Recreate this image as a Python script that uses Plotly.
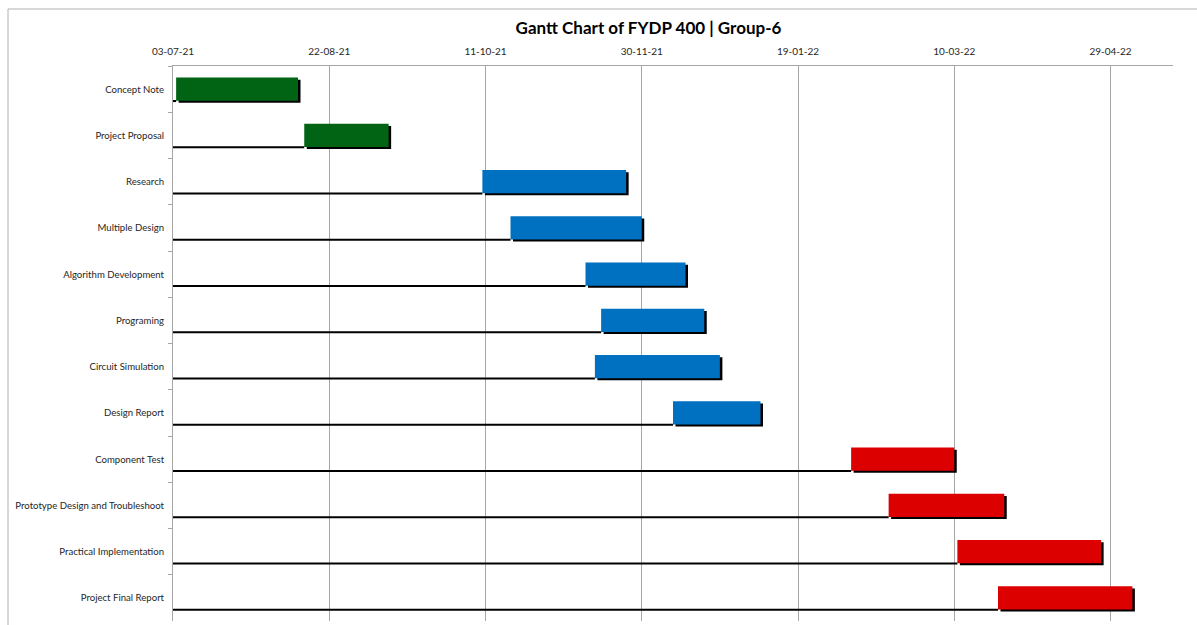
import pandas as pd
import plotly.graph_objects as go

tasks = ["Concept Note", "Project Proposal", "Research", "Multiple Design",
         "Algorithm Development", "Programing", "Circuit Simulation", "Design Report",
         "Component Test", "Prototype Design and Troubleshoot",
         "Practical Implementation", "Project Final Report"]
start_dates = ["2021-07-04", "2021-08-14", "2021-10-10", "2021-10-19",
               "2021-11-12", "2021-11-17", "2021-11-15", "2021-12-10",
               "2022-02-05", "2022-02-17", "2022-03-11", "2022-03-24"]
end_dates = ["2021-08-12", "2021-09-10", "2021-11-25", "2021-11-30",
             "2021-12-14", "2021-12-20", "2021-12-25", "2022-01-07",
             "2022-03-10", "2022-03-26", "2022-04-26", "2022-05-06"]
phases = ["Proposal", "Proposal", "Design", "Design", "Design", "Design", "Design",
          "Design", "Build", "Build", "Build", "Build"]
axis_start = "2021-07-03"
axis_end = "2022-05-19"
tick_step_days = 50

phase_colors = {"Proposal": "#006414", "Design": "#0070C0", "Build": "#DC0000"}

DAY_MS = 86400000
starts = pd.to_datetime(start_dates)
ends = pd.to_datetime(end_dates)
axis0 = pd.Timestamp(axis_start)
dur_ms = [(e - s).total_seconds() * 1000 for s, e in zip(starts, ends)]
lead_ms = [(s - axis0).total_seconds() * 1000 for s in starts]
colors = [phase_colors[p] for p in phases]

shadow_shift = pd.Timedelta(days=0.8)

fig = go.Figure()
# shadow behind each bar
fig.add_trace(go.Bar(
    y=tasks, x=dur_ms, base=[(s + shadow_shift).strftime("%Y-%m-%d %H:%M") for s in starts],
    orientation="h", width=0.5, offset=-0.25 + 0.045,
    marker=dict(color="#000000", line=dict(width=0)), hoverinfo="skip", showlegend=False))
# main bars
fig.add_trace(go.Bar(
    y=tasks, x=dur_ms, base=[s.strftime("%Y-%m-%d") for s in starts],
    orientation="h", width=0.5, offset=-0.25,
    marker=dict(color=colors, line=dict(width=0)), showlegend=False,
    hovertemplate="%{y}<extra></extra>"))
# lead line from axis to bar start
fig.add_trace(go.Bar(
    y=tasks, x=lead_ms, base=[axis_start] * len(tasks),
    orientation="h", width=0.045, offset=0.235,
    marker=dict(color="#000000", line=dict(width=0)), hoverinfo="skip", showlegend=False))

L, R, T, B = 173, 24, 66, 4
W, H = 1197, 625
pw, ph = W - L - R, H - T - B

fig.update_layout(
    width=W, height=H, barmode="overlay",
    margin=dict(l=L, r=R, t=T, b=B),
    paper_bgcolor="white", plot_bgcolor="white",
    font=dict(family="Lato", size=10, color="#262626"),
    title=dict(text="<b>Gantt Chart of FYDP 400 | Group-6</b>", x=(648.5 - L) / pw, xref="paper",
               xanchor="center", y=(H - 28) / H, yanchor="middle",
               font=dict(family="Lato", size=17, color="#000000")),
    xaxis=dict(type="date", side="top", range=[axis_start, axis_end],
               tick0=axis_start, dtick=tick_step_days * DAY_MS, tickformat="%d-%m-%y",
               showgrid=True, gridcolor="#a6a6a6", gridwidth=1,
               showline=True, linecolor="#a6a6a6", linewidth=1,
               ticks="", zeroline=False, ticklabelstandoff=6,
               tickfont=dict(size=10, color="#262626")),
    yaxis=dict(type="category", categoryorder="array", categoryarray=tasks,
               autorange="reversed", showgrid=False, showline=True,
               linecolor="#a6a6a6", linewidth=1, ticks="outside", tickson="boundaries",
               ticklen=4, tickcolor="#a6a6a6", ticklabelstandoff=6,
               tickfont=dict(size=9.6, color="#262626")),
    shapes=[dict(type="rect", xref="paper", yref="paper",
                 x0=(8 - L) / pw, x1=(W + 5 - L) / pw,
                 y0=-0.05, y1=(H - B - 9) / ph,
                 line=dict(color="#b0b0b0", width=1), fillcolor="rgba(0,0,0,0)", layer="below")],
)

fig.write_html("out.html")
